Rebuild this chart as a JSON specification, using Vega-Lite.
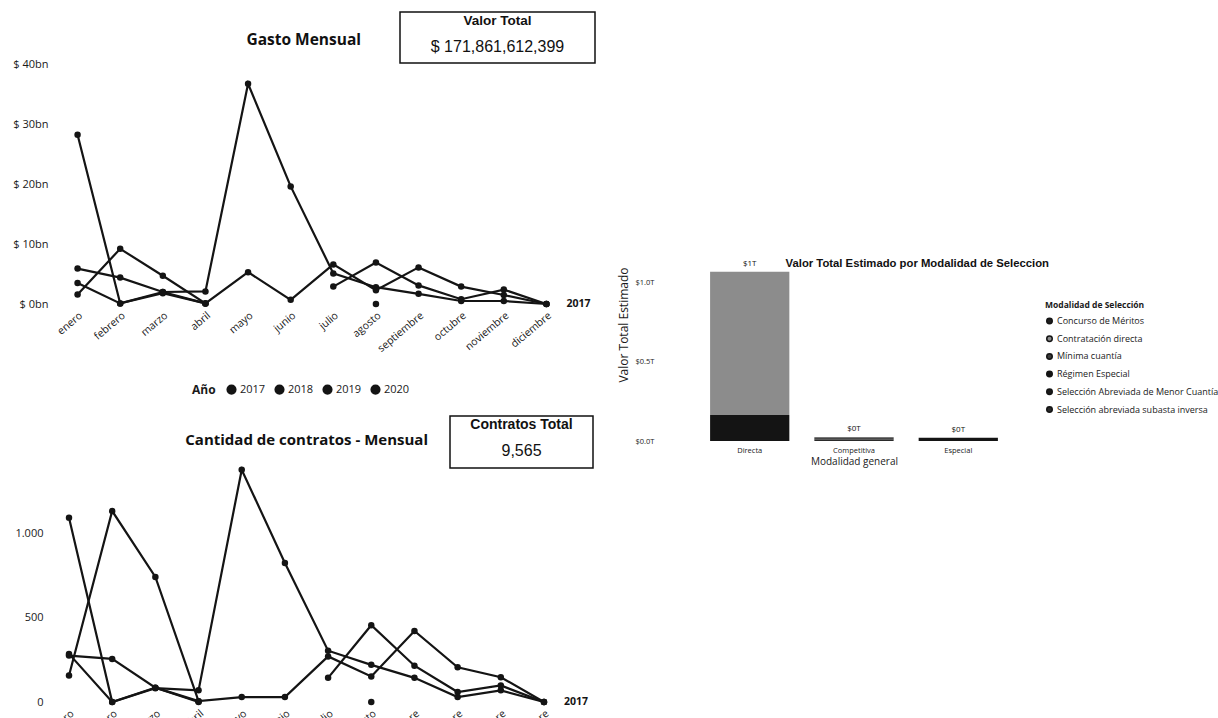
{
  "$schema": "https://vega.github.io/schema/vega-lite/v6.json",
  "background": "white",
  "padding": {"left": 12, "top": 11, "right": 4, "bottom": 0},
  "config": {
    "font": "Open Sans",
    "view": {"stroke": null},
    "axis": {"grid": false, "domain": false, "ticks": false, "labelColor": "#1a1a1a", "titleColor": "#1a1a1a", "labelFont": "Open Sans", "titleFont": "Open Sans"},
    "legend": {"labelColor": "#1a1a1a", "titleColor": "#1a1a1a", "labelFont": "Open Sans", "titleFont": "Open Sans"},
    "text": {"color": "#111111"}
  },
  "datasets": {
    "mensual": [
      {"anio": "2018", "mes": "enero", "tramo": "2018", "gasto_bn": 28.2, "contratos": 1092},
      {"anio": "2018", "mes": "febrero", "tramo": "2018", "gasto_bn": 0.1, "contratos": 0},
      {"anio": "2018", "mes": "marzo", "tramo": "2018", "gasto_bn": 2.0, "contratos": 82},
      {"anio": "2018", "mes": "abril", "tramo": "2018", "gasto_bn": 2.1, "contratos": 69},
      {"anio": "2018", "mes": "mayo", "tramo": "2018", "gasto_bn": 36.7, "contratos": 1376},
      {"anio": "2018", "mes": "junio", "tramo": "2018", "gasto_bn": 19.6, "contratos": 823},
      {"anio": "2018", "mes": "julio", "tramo": "2018", "gasto_bn": 5.1, "contratos": 304},
      {"anio": "2018", "mes": "agosto", "tramo": "2018", "gasto_bn": 2.8, "contratos": 220},
      {"anio": "2018", "mes": "septiembre", "tramo": "2018", "gasto_bn": 1.7, "contratos": 143},
      {"anio": "2018", "mes": "octubre", "tramo": "2018", "gasto_bn": 0.5, "contratos": 29},
      {"anio": "2018", "mes": "noviembre", "tramo": "2018", "gasto_bn": 0.5, "contratos": 69},
      {"anio": "2018", "mes": "diciembre", "tramo": "2018", "gasto_bn": 0.0, "contratos": 0},
      {"anio": "2019", "mes": "enero", "tramo": "2019", "gasto_bn": 1.6, "contratos": 157},
      {"anio": "2019", "mes": "febrero", "tramo": "2019", "gasto_bn": 9.2, "contratos": 1131},
      {"anio": "2019", "mes": "marzo", "tramo": "2019", "gasto_bn": 4.7, "contratos": 741},
      {"anio": "2019", "mes": "abril", "tramo": "2019", "gasto_bn": 0.1, "contratos": 5},
      {"anio": "2019", "mes": "mayo", "tramo": "2019", "gasto_bn": 5.3, "contratos": 29},
      {"anio": "2019", "mes": "junio", "tramo": "2019", "gasto_bn": 0.7, "contratos": 29},
      {"anio": "2019", "mes": "julio", "tramo": "2019", "gasto_bn": 6.6, "contratos": 270},
      {"anio": "2019", "mes": "agosto", "tramo": "2019", "gasto_bn": 2.3, "contratos": 151},
      {"anio": "2019", "mes": "septiembre", "tramo": "2019", "gasto_bn": 6.1, "contratos": 421},
      {"anio": "2019", "mes": "octubre", "tramo": "2019", "gasto_bn": 2.9, "contratos": 206},
      {"anio": "2019", "mes": "noviembre", "tramo": "2019", "gasto_bn": 1.5, "contratos": 147},
      {"anio": "2019", "mes": "diciembre", "tramo": "2019", "gasto_bn": 0.0, "contratos": 0},
      {"anio": "2017", "mes": "enero", "tramo": "2017-1", "gasto_bn": 3.5, "contratos": 285},
      {"anio": "2017", "mes": "febrero", "tramo": "2017-1", "gasto_bn": 0.1, "contratos": 0},
      {"anio": "2017", "mes": "marzo", "tramo": "2017-1", "gasto_bn": 1.8, "contratos": 85},
      {"anio": "2017", "mes": "abril", "tramo": "2017-1", "gasto_bn": 0.1, "contratos": 0},
      {"anio": "2017", "mes": "julio", "tramo": "2017-2", "gasto_bn": 2.9, "contratos": 143},
      {"anio": "2017", "mes": "agosto", "tramo": "2017-2", "gasto_bn": 6.9, "contratos": 455},
      {"anio": "2017", "mes": "septiembre", "tramo": "2017-2", "gasto_bn": 3.1, "contratos": 215},
      {"anio": "2017", "mes": "octubre", "tramo": "2017-2", "gasto_bn": 0.8, "contratos": 59},
      {"anio": "2017", "mes": "noviembre", "tramo": "2017-2", "gasto_bn": 2.4, "contratos": 98},
      {"anio": "2017", "mes": "diciembre", "tramo": "2017-2", "gasto_bn": 0.0, "contratos": 0},
      {"anio": "2020", "mes": "enero", "tramo": "2020-1", "gasto_bn": 5.9, "contratos": 275},
      {"anio": "2020", "mes": "febrero", "tramo": "2020-1", "gasto_bn": 4.4, "contratos": 255},
      {"anio": "2020", "mes": "marzo", "tramo": "2020-1", "gasto_bn": 2.0, "contratos": 85},
      {"anio": "2020", "mes": "abril", "tramo": "2020-1", "gasto_bn": 0.1, "contratos": 5},
      {"anio": "2020", "mes": "agosto", "tramo": "2020-2", "gasto_bn": 0.0, "contratos": 0}
    ],
    "modalidad": [
      {"general": "Directa", "modalidad": "Régimen Especial", "valor_T": 0.165},
      {"general": "Directa", "modalidad": "Contratación directa", "valor_T": 0.905},
      {"general": "Competitiva", "modalidad": "Concurso de Méritos", "valor_T": 0.004},
      {"general": "Competitiva", "modalidad": "Mínima cuantía", "valor_T": 0.003},
      {"general": "Competitiva", "modalidad": "Selección Abreviada de Menor Cuantía", "valor_T": 0.008},
      {"general": "Competitiva", "modalidad": "Selección abreviada subasta inversa", "valor_T": 0.009},
      {"general": "Especial", "modalidad": "Régimen Especial", "valor_T": 0.02}
    ],
    "kpi_gasto": [
      {"fila": "1", "texto": "Valor Total"},
      {"fila": "2", "texto": "$ 171,861,612,399"}
    ],
    "kpi_contratos": [
      {"fila": "1", "texto": "Contratos Total"},
      {"fila": "2", "texto": "9,565"}
    ]
  },
  "resolve": {"scale": {"color": "independent"}, "legend": {"color": "independent"}},
  "spacing": 21,
  "hconcat": [
    {
      "spacing": 18,
      "resolve": {"scale": {"color": "independent"}, "legend": {"color": "independent"}},
      "vconcat": [
        {
          "spacing": -9,
          "resolve": {"scale": {"color": "independent"}, "legend": {"color": "independent"}},
          "vconcat": [
            {
              "spacing": 38,
              "hconcat": [
                {
                  "width": 309, "height": 51,
                  "data": {"values": [{"t": "Gasto Mensual"}]},
                  "mark": {"type": "text", "x": "width", "align": "right", "dy": 2, "fontSize": 15.5, "fontWeight": "bold", "font": "Open Sans"},
                  "encoding": {"text": {"field": "t"}}
                },
                {
                  "width": 195, "height": 51,
                  "view": {"stroke": "#111111", "strokeWidth": 1.5},
                  "data": {"name": "kpi_gasto"},
                  "encoding": {
                    "y": {"field": "fila", "type": "nominal", "axis": null, "scale": {"type": "point", "padding": 0.4}},
                    "text": {"field": "texto"}
                  },
                  "layer": [
                    {"transform": [{"filter": "datum.fila == '1'"}], "mark": {"type": "text", "font": "Liberation Sans", "fontWeight": "bold", "fontSize": 13.5, "dy": -2}},
                    {"transform": [{"filter": "datum.fila == '2'"}], "mark": {"type": "text", "font": "Liberation Sans", "fontSize": 16, "dy": -5}}
                  ]
                }
              ]
            },
            {
              "width": 520, "height": 240,
              "data": {"name": "mensual"},
              "encoding": {
                "x": {"field": "mes", "type": "ordinal", "sort": ["enero", "febrero", "marzo", "abril", "mayo", "junio", "julio", "agosto", "septiembre", "octubre", "noviembre", "diciembre"], "scale": {"type": "point", "padding": 0.6}, "axis": {"title": null, "labelAngle": -40, "labelFontSize": 10.5, "labelPadding": 6}},
                "y": {"field": "gasto_bn", "type": "quantitative", "scale": {"domain": [0, 40], "nice": false}, "axis": {"title": null, "values": [0, 10, 20, 30, 40], "labelExpr": "'$ ' + datum.value + 'bn'", "labelFontSize": 11, "labelPadding": 4}},
                "color": {"field": "anio", "type": "nominal", "scale": {"domain": ["2017", "2018", "2019", "2020"], "range": ["#141414", "#141414", "#141414", "#141414"]},
                  "legend": {"orient": "none", "legendX": 140, "legendY": 320, "direction": "horizontal", "title": "Año", "titleOrient": "left", "titleFontSize": 12, "titleFontWeight": "bold", "titlePadding": 10, "labelFontSize": 11, "symbolType": "circle", "symbolSize": 75, "columnPadding": 6, "labelOffset": 3,
                    "encode": {"symbols": {"update": {"fill": {"value": "#141414"}, "stroke": {"value": "#141414"}}}}}}
              },
              "layer": [
                {"mark": {"type": "line", "strokeWidth": 2.2}, "encoding": {"detail": {"field": "tramo"}}},
                {"mark": {"type": "point", "filled": true, "size": 42, "opacity": 1}},
                {"transform": [{"filter": "datum.anio == '2017' && datum.mes == 'diciembre'"}], "mark": {"type": "text", "align": "left", "dx": 20, "fontSize": 10.5, "fontWeight": "bold"}, "encoding": {"text": {"field": "anio"}}}
              ]
            }
          ]
        },
        {
          "spacing": -6,
          "resolve": {"scale": {"color": "independent"}, "legend": {"color": "independent"}},
          "vconcat": [
            {
              "spacing": 21,
              "hconcat": [
                {
                  "width": 376, "height": 52,
                  "data": {"values": [{"t": "Cantidad de contratos - Mensual"}]},
                  "mark": {"type": "text", "x": "width", "align": "right", "dy": -2, "fontSize": 15, "fontWeight": "bold", "font": "Open Sans"},
                  "encoding": {"text": {"field": "t"}}
                },
                {
                  "width": 143, "height": 52,
                  "view": {"stroke": "#111111", "strokeWidth": 1.5},
                  "data": {"name": "kpi_contratos"},
                  "encoding": {
                    "y": {"field": "fila", "type": "nominal", "axis": null, "scale": {"type": "point", "padding": 0.4}},
                    "text": {"field": "texto"}
                  },
                  "layer": [
                    {"transform": [{"filter": "datum.fila == '1'"}], "mark": {"type": "text", "font": "Liberation Sans", "fontWeight": "bold", "fontSize": 14, "dy": -3}},
                    {"transform": [{"filter": "datum.fila == '2'"}], "mark": {"type": "text", "font": "Liberation Sans", "fontSize": 16, "dy": -5}}
                  ]
                }
              ]
            },
            {
              "width": 509, "height": 233,
              "data": {"name": "mensual"},
              "encoding": {
                "x": {"field": "mes", "type": "ordinal", "sort": ["enero", "febrero", "marzo", "abril", "mayo", "junio", "julio", "agosto", "septiembre", "octubre", "noviembre", "diciembre"], "scale": {"type": "point", "padding": 0.394}, "axis": {"title": null, "labelAngle": -40, "labelFontSize": 10.5, "labelPadding": 6}},
                "y": {"field": "contratos", "type": "quantitative", "scale": {"domain": [0, 1380], "nice": false}, "axis": {"title": null, "values": [0, 500, 1000], "labelExpr": "replace(datum.label, ',', '.')", "labelFontSize": 11, "labelPadding": 9, "labelColor": "#1a1a1a"}},
                "color": {"field": "anio", "type": "nominal", "scale": {"domain": ["2017", "2018", "2019", "2020"], "range": ["#141414", "#141414", "#141414", "#141414"]}, "legend": null}
              },
              "layer": [
                {"mark": {"type": "line", "strokeWidth": 2.2}, "encoding": {"detail": {"field": "tramo"}}},
                {"mark": {"type": "point", "filled": true, "size": 42, "opacity": 1}},
                {"transform": [{"filter": "datum.anio == '2017' && datum.mes == 'diciembre'"}], "mark": {"type": "text", "align": "left", "dx": 20, "fontSize": 10.5, "fontWeight": "bold"}, "encoding": {"text": {"field": "anio"}}}
              ]
            }
          ]
        }
      ]
    },
    {
      "spacing": 0,
      "resolve": {"scale": {"color": "independent"}, "legend": {"color": "independent"}},
      "vconcat": [
        {
          "width": 1, "height": 246,
          "data": {"values": [{}]},
          "mark": {"type": "text", "text": " "}
        },
        {
          "width": 390, "height": 174,
          "title": {"text": "Valor Total Estimado por Modalidad de Seleccion", "anchor": "end", "frame": "group", "font": "Liberation Sans", "fontSize": 11.3, "fontWeight": "bold", "offset": -10, "color": "#111111"},
          "data": {"name": "modalidad"},
          "encoding": {
            "x": {"field": "general", "type": "nominal", "sort": ["Directa", "Competitiva", "Especial"], "scale": {"paddingInner": 0.24, "paddingOuter": 0.49}, "axis": {"title": "Modalidad general", "labelAngle": 0, "labelFontSize": 7.5, "labelPadding": 5, "titleFontSize": 10, "titleFontWeight": "normal", "titlePadding": 3}}
          },
          "layer": [
            {
              "mark": {"type": "bar"},
              "encoding": {
                "y": {"field": "valor_T", "type": "quantitative", "stack": "zero", "title": "Valor Total Estimado", "scale": {"domain": [0, 1.1], "nice": false}, "axis": {"values": [0, 0.5, 1], "labelExpr": "'$' + format(datum.value, '.1f') + 'T'", "labelFontSize": 7.5, "labelPadding": 5, "titleFontSize": 12, "titleFontWeight": "normal", "titlePadding": 5, "titleAnchor": "end"}},
                "color": {"field": "modalidad", "type": "nominal",
                  "scale": {"domain": ["Concurso de Méritos", "Contratación directa", "Mínima cuantía", "Régimen Especial", "Selección Abreviada de Menor Cuantía", "Selección abreviada subasta inversa"], "range": ["#1e1e1e", "#8c8c8c", "#3a3a3a", "#141414", "#1a1a1a", "#2a2a2a"]},
                  "legend": {"orient": "none", "legendX": 386, "legendY": 34, "title": "Modalidad de Selección", "titleFontSize": 8.5, "titleFontWeight": "bold", "titlePadding": 7, "labelFontSize": 9, "labelOffset": 3, "symbolType": "circle", "symbolSize": 30, "rowPadding": 4.7, "labelLimit": 300,
                    "encode": {"symbols": {"update": {"fill": {"value": "#141414"}, "stroke": {"value": "#141414"}}}}}},
                "order": {"field": "modalidad", "sort": "descending"}
              }
            },
            {
              "transform": [{"aggregate": [{"op": "sum", "field": "valor_T", "as": "total"}], "groupby": ["general"]}],
              "mark": {"type": "text", "baseline": "bottom", "dy": -4, "fontSize": 8, "text": {"expr": "'$' + format(datum.total, '.0f') + 'T'"}},
              "encoding": {"y": {"field": "total", "type": "quantitative", "title": "Valor Total Estimado"}}
            }
          ]
        }
      ]
    }
  ]
}
